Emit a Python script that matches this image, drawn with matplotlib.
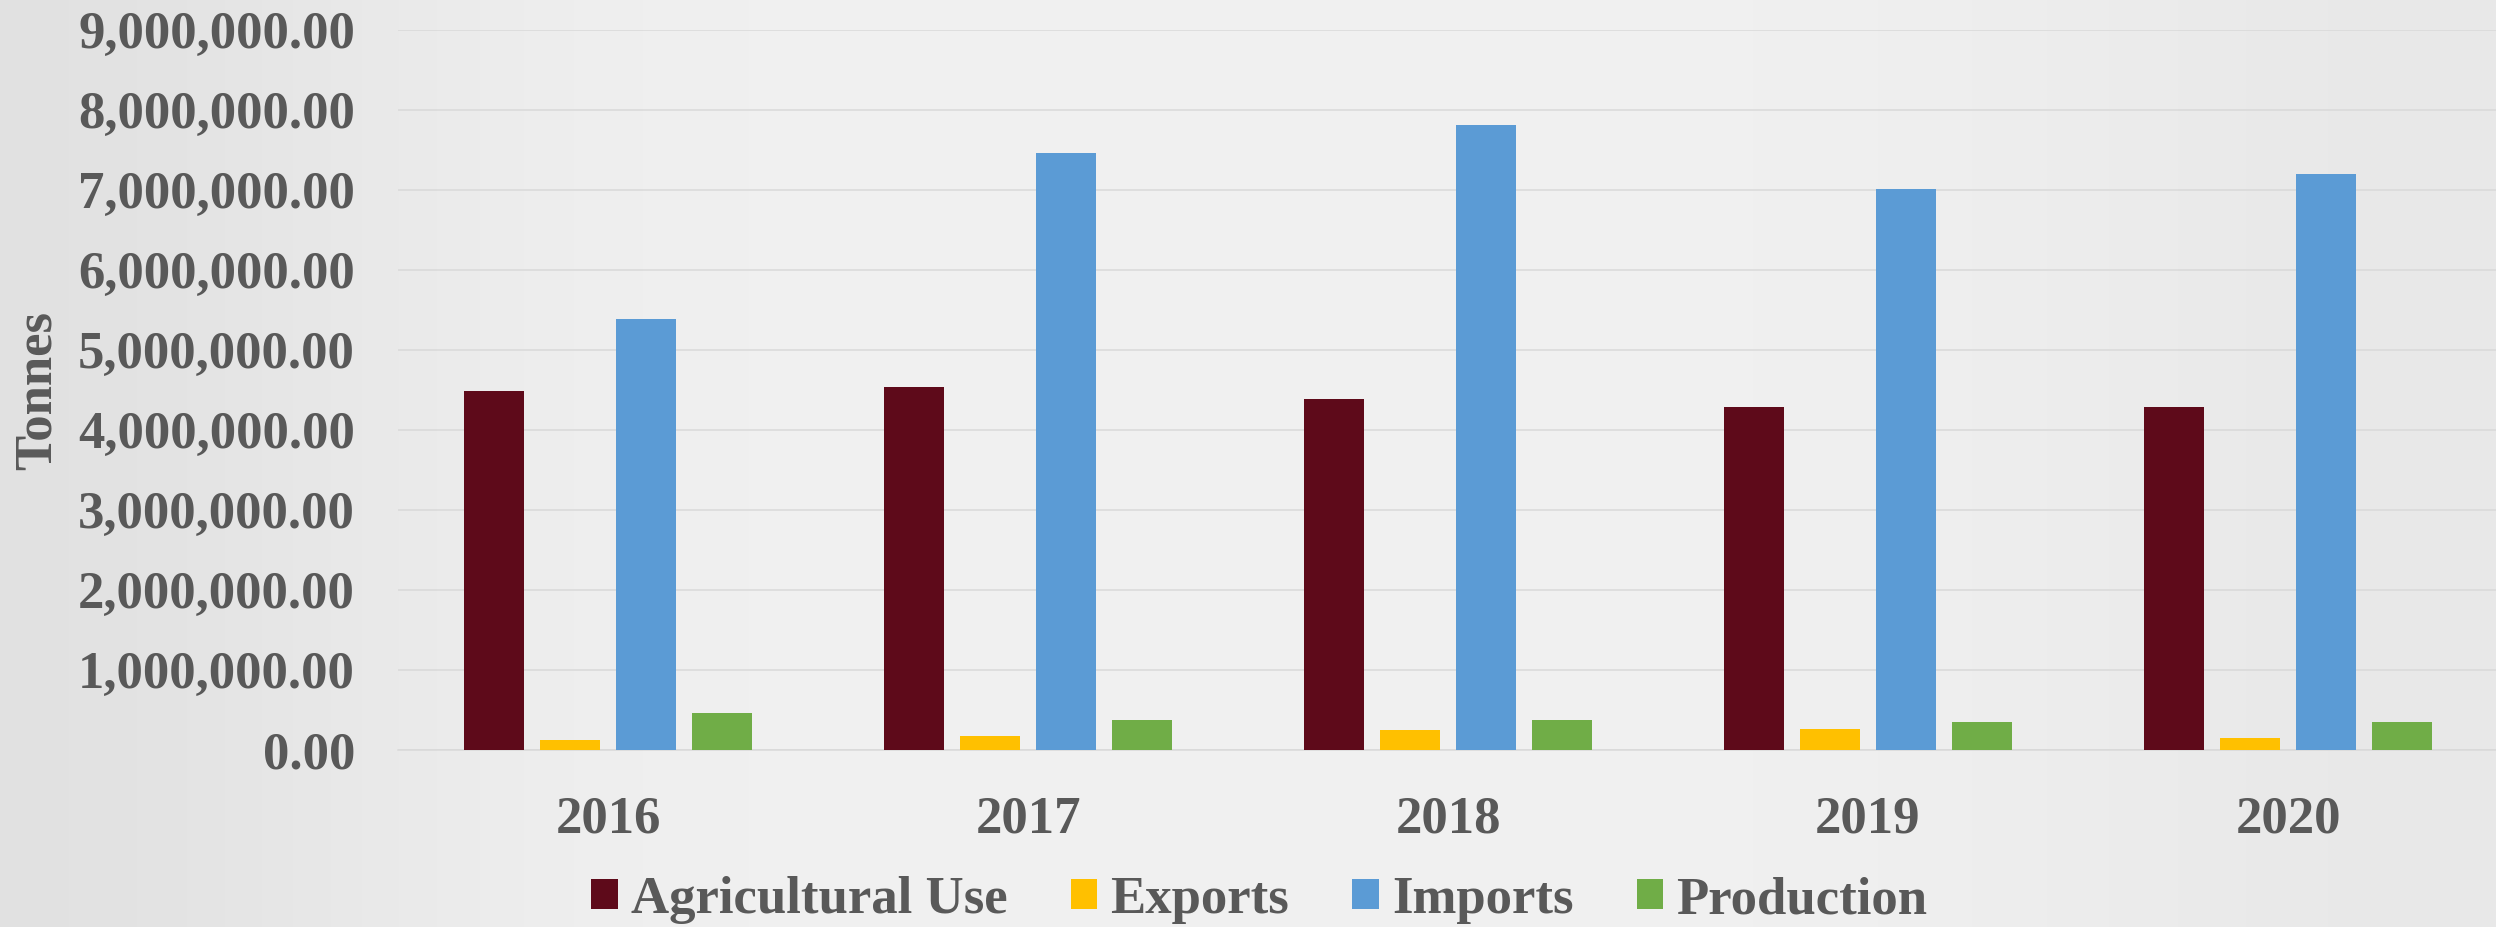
import numpy as np
import matplotlib
matplotlib.use("Agg")
import matplotlib.pyplot as plt
from matplotlib.ticker import FuncFormatter, MultipleLocator
from matplotlib.patches import Patch

# ---- data ----
years = ["2016", "2017", "2018", "2019", "2020"]
series_names = ["Agricultural Use", "Exports", "Imports", "Production"]
agricultural_use = [4490000, 4540000, 4390000, 4290000, 4290000]
exports = [127000, 177000, 255000, 260000, 150000]
imports = [5390000, 7460000, 7810000, 7010000, 7190000]
production = [456000, 380000, 375000, 355000, 356000]
colors = ["#5E0A1A", "#FFC000", "#5B9BD5", "#70AD47"]

W, H = 2496, 927
fig = plt.figure(figsize=(W / 100, H / 100), dpi=100)
fig.patch.set_facecolor("#E8E8E8")

# soft background shading (decorative)
bg = fig.add_axes([0, 0, 1, 1], zorder=-10)
xx = np.linspace(0, 1, 400)
yy = np.linspace(0, 1, 150)
X, Y = np.meshgrid(xx, yy)
shade = 0.945 - 0.06 * np.exp(-((X - 0.0) / 0.18) ** 2) - 0.035 * np.exp(-((X - 1.0) / 0.2) ** 2)
bg.imshow(np.dstack([shade, shade, shade]), extent=[0, 1, 0, 1], aspect="auto")
bg.axis("off")

txt = "#595959"
font = "Liberation Serif"
fs = 38

ax = fig.add_axes([398 / W, 1 - 750 / H, 2100 / W, (750 - 29.5) / H])
ax.set_facecolor("none")

x = np.arange(len(years))
width = 0.144
pitch = 0.181
all_series = [agricultural_use, exports, imports, production]
for i, (vals, c) in enumerate(zip(all_series, colors)):
    ax.bar(x + (i - 1.5) * pitch, vals, width, color=c, zorder=3, linewidth=0)

ax.set_xlim(-0.5, len(years) - 0.5)
ax.set_ylim(0, 9000000)
ax.yaxis.set_major_locator(MultipleLocator(1000000))
ax.yaxis.set_major_formatter(FuncFormatter(lambda v, p: f"{v:,.2f}"))
ax.set_xticks(x)
ax.set_xticklabels(years)
ax.grid(axis="y", color="#D9D9D9", linewidth=1.1, zorder=0)
ax.set_axisbelow(True)
for s in ["top", "right", "left"]:
    ax.spines[s].set_visible(False)
ax.spines["bottom"].set_color("#D9D9D9")
ax.spines["bottom"].set_linewidth(1.1)
ax.tick_params(axis="both", length=0)
ax.tick_params(axis="y", pad=31)
ax.tick_params(axis="x", pad=33)
for lab in ax.get_yticklabels() + ax.get_xticklabels():
    lab.set_fontfamily(font)
    lab.set_fontweight("bold")
    lab.set_fontsize(fs)
    lab.set_color(txt)

fig.text(38 / W, 1 - 390 / H, "Tonnes", rotation=90, ha="center", va="center",
         fontfamily=font, fontweight="bold", fontsize=fs, color=txt)

handles = [Patch(facecolor=c, edgecolor="none") for c in colors]
leg = fig.legend(handles, series_names, loc="center", bbox_to_anchor=(0.5045, 1 - 900 / H),
                 ncol=4, frameon=False, handlelength=0.5, handleheight=0.5,
                 handletextpad=0.25, columnspacing=1.2,
                 prop={"family": font, "weight": "bold", "size": fs})
for t in leg.get_texts():
    t.set_color(txt)

fig.savefig("out.png", dpi=100, facecolor=fig.get_facecolor())
